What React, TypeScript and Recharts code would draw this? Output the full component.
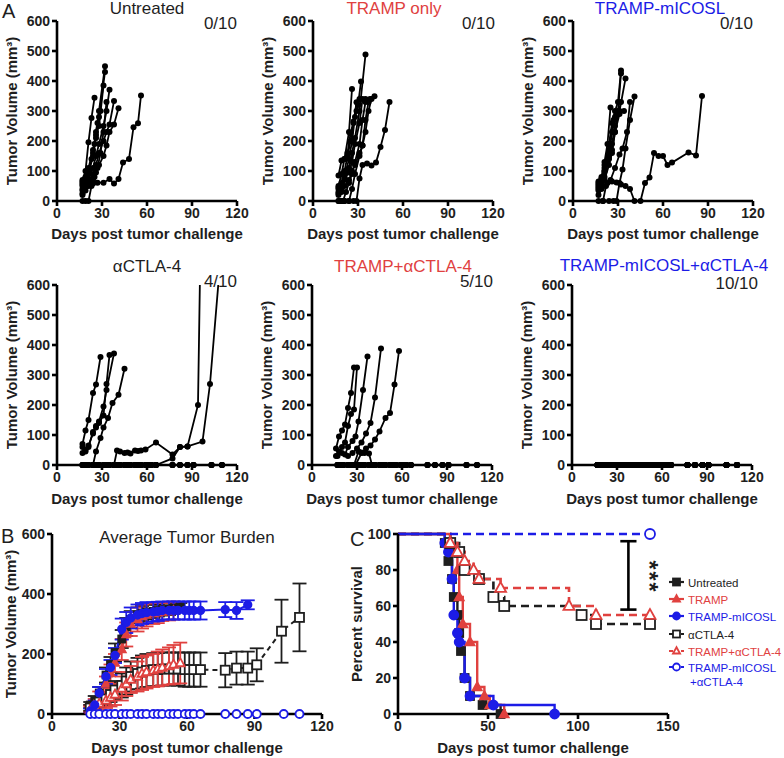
import React from 'react';
import { LineChart, Line, XAxis, YAxis, ErrorBar, ReferenceLine } from 'recharts';

const FONT = '"Liberation Sans", Arial, Helvetica, sans-serif';
const INK = '#1e1e1e';
const RED = '#e0413f';
const BLUE = '#1c1ce6';

type P = [number, number];

// ---------- tick labels ----------
const A_X_TICKS = [0, 30, 60, 90, 120];
const A_Y_TICKS = [0, 100, 200, 300, 400, 500, 600];
const B_X_TICKS = [0, 30, 60, 90, 120];
const B_Y_TICKS = [0, 200, 400, 600];
const C_X_TICKS = [0, 50, 100, 150];
const C_Y_TICKS = [0, 20, 40, 60, 80, 100];

// ---------- tumor-free measurement days ----------
const ZERO_DAYS = [17, 19, 21, 24, 26, 28, 31, 33, 35, 38, 40, 42, 45, 47, 49, 52, 54, 56, 59, 61, 63, 66, 77, 82, 87, 91, 103, 110];
const ZERO_VOLS = [0, 0, 0, 0, 0, 0, 0, 0, 0, 0, 0, 0, 0, 0, 0, 0, 0, 0, 0, 0, 0, 0, 0, 0, 0, 0, 0, 0];

// ---------- Panel A: Untreated ----------
const U1: P[] = [[17, 50], [19, 70], [21, 100], [24, 160], [26, 230], [28, 300], [32, 449]];
const U2: P[] = [[17, 35], [19, 60], [21, 90], [24, 150], [26, 210], [28, 280], [32, 430]];
const U3: P[] = [[17, 65], [19, 80], [21, 110], [24, 170], [26, 220], [28, 250], [31, 385]];
const U4: P[] = [[17, 70], [19, 100], [21, 196], [23, 277], [25, 344]];
const U5: P[] = [[17, 40], [19, 55], [21, 75], [24, 110], [26, 150], [28, 190], [31, 250], [33, 300], [35, 371]];
const U6: P[] = [[17, 25], [19, 45], [21, 60], [24, 90], [26, 120], [28, 160], [31, 200], [33, 230], [35, 255], [38, 333]];
const U7: P[] = [[17, 20], [19, 35], [21, 50], [24, 70], [26, 95], [28, 120], [31, 150], [33, 185], [35, 230], [38, 255], [41, 309]];
const U8: P[] = [[17, 60], [19, 50], [21, 55], [24, 58], [27, 61], [31, 61], [35, 73], [38, 58], [41, 73], [44, 128], [48, 140], [51, 246], [54, 259], [56, 352]];
const U9: P[] = [[17, 0], [19, 0], [21, 0], [23, 50], [25, 80], [27, 110], [29, 160], [31, 230], [33, 330]];
const U10: P[] = [[17, 55], [19, 75], [21, 100], [23, 140], [25, 190], [27, 260], [29, 300]];

// ---------- Panel A: TRAMP only ----------
const T1: P[] = [[17, 50], [19, 90], [21, 140], [24, 230], [26, 373]];
const T2: P[] = [[17, 40], [19, 60], [21, 100], [23, 150], [25, 200], [27, 260], [29, 329]];
const T3: P[] = [[17, 30], [19, 50], [21, 80], [24, 140], [26, 200], [28, 280], [30, 320], [32, 398]];
const T4: P[] = [[17, 20], [19, 40], [21, 70], [24, 110], [26, 160], [28, 210], [31, 300], [35, 488]];
const T5: P[] = [[17, 85], [19, 135], [21, 140], [23, 160], [25, 225], [27, 265], [29, 300], [31, 340]];
const T6: P[] = [[17, 45], [19, 55], [21, 75], [24, 95], [26, 130], [28, 190], [31, 260], [33, 340], [35, 340]];
const T7: P[] = [[18, 0], [20, 0], [22, 30], [24, 60], [26, 90], [28, 130], [31, 190], [33, 270], [35, 330], [38, 340], [41, 349]];
const T8: P[] = [[17, 25], [19, 30], [21, 50], [24, 70], [26, 100], [28, 120], [31, 160], [33, 185], [35, 270], [37, 330]];
const T9: P[] = [[17, 0], [19, 0], [21, 0], [24, 0], [26, 40], [28, 90], [31, 150], [33, 185], [35, 230], [37, 300], [39, 340]];
const T10: P[] = [[17, 0], [19, 0], [21, 0], [24, 0], [27, 0], [29, 0], [31, 75], [33, 120], [36, 125], [39, 118], [42, 128], [45, 180], [48, 237], [51, 330]];

// ---------- Panel A: TRAMP-mICOSL ----------
const I1: P[] = [[17, 60], [19, 80], [21, 120], [24, 190], [26, 260], [28, 300], [30, 330], [32, 435]];
const I2: P[] = [[17, 50], [19, 70], [21, 110], [24, 170], [26, 230], [28, 280], [30, 300], [32, 425]];
const I3: P[] = [[17, 55], [19, 75], [21, 130], [23, 190], [25, 312]];
const I4: P[] = [[17, 45], [19, 60], [21, 100], [24, 150], [26, 190], [28, 250], [31, 300], [35, 408]];
const I5: P[] = [[17, 65], [19, 70], [21, 100], [24, 140], [26, 170], [28, 230], [31, 290], [34, 300]];
const I6: P[] = [[20, 0], [22, 50], [25, 70], [28, 110], [31, 155], [33, 175], [36, 230], [38, 330]];
const I7: P[] = [[17, 0], [20, 0], [24, 0], [27, 0], [29, 0], [31, 60], [33, 105], [35, 175], [38, 270], [41, 348]];
const I8: P[] = [[17, 40], [20, 50], [23, 60], [26, 65], [29, 62], [32, 55], [35, 50], [38, 40], [41, 0], [45, 0], [48, 60], [51, 78], [54, 160], [57, 150], [60, 150], [63, 120], [66, 128], [77, 162], [82, 152], [86, 350]];
const I9: P[] = [[17, 35], [19, 50], [21, 80], [23, 125], [25, 190], [27, 270]];
const I10: P[] = [[17, 20], [19, 40], [21, 70], [24, 120], [26, 160], [28, 230], [30, 290], [32, 330]];

// ---------- Panel A: aCTLA-4 ----------
const C1: P[] = [[17, 70], [19, 115], [21, 150], [24, 240], [26, 268], [29, 360]];
const C2: P[] = [[17, 40], [19, 50], [21, 60], [24, 110], [26, 125], [28, 140], [31, 165], [33, 270], [35, 367]];
const C3: P[] = [[17, 60], [19, 45], [21, 65], [24, 105], [26, 130], [28, 145], [31, 195], [33, 250], [38, 372]];
const C4: P[] = [[24, 0], [26, 45], [29, 90], [31, 125], [34, 157], [37, 207], [41, 234], [45, 321]];
const C5: P[] = [[38, 0], [40, 48], [42, 45], [45, 40], [47, 42], [49, 38], [52, 48], [54, 47], [56, 48], [59, 52], [66, 75], [77, 35], [82, 60], [87, 62], [97, 78], [102, 270], [110, 750]];
const C6: P[] = [[66, 0], [77, 22], [82, 60], [87, 62], [94, 200], [98, 1500]];

// ---------- Panel A: TRAMP+aCTLA-4 ----------
const R1: P[] = [[16, 55], [18, 95], [20, 115], [22, 135], [24, 190], [26, 240], [28, 325]];
const R2: P[] = [[16, 30], [18, 45], [20, 60], [22, 75], [24, 130], [26, 170], [28, 185], [30, 325]];
const R3: P[] = [[17, 30], [20, 40], [22, 35], [24, 60], [27, 80], [29, 95], [31, 145], [34, 250], [37, 362]];
const R4: P[] = [[24, 30], [27, 40], [30, 55], [33, 75], [36, 105], [39, 140], [42, 225], [46, 388]];
const R5: P[] = [[29, 0], [33, 40], [36, 55], [39, 65], [42, 85], [45, 112], [49, 157], [52, 173], [55, 268], [58, 380]];
const R6: P[] = [[28, 0], [31, 45], [33, 42], [35, 40], [38, 38], [40, 0]];

// ---------- Panel B: averages (mean, SEM) ----------
const B_UNT_DAYS = [17, 19, 21, 24, 26, 28, 31, 33, 35, 38, 40, 42, 45, 47, 49, 52, 54, 57];
const B_UNT_MEAN = [30, 45, 70, 130, 165, 205, 250, 290, 315, 330, 335, 340, 342, 345, 348, 350, 352, 355];
const B_UNT_SEM = [10, 15, 20, 25, 25, 30, 30, 30, 28, 25, 25, 25, 22, 20, 20, 20, 18, 15];

const B_TRAMP_DAYS = [17, 19, 21, 24, 26, 28, 31, 33, 35, 38, 40, 42, 45, 47, 49, 52, 54];
const B_TRAMP_MEAN = [20, 35, 55, 100, 135, 170, 215, 265, 300, 315, 325, 330, 335, 338, 340, 342, 345];
const B_TRAMP_SEM = [10, 15, 20, 25, 30, 30, 35, 40, 40, 40, 40, 38, 35, 35, 30, 30, 30];

const B_ICOSL_DAYS = [17, 19, 21, 24, 26, 28, 31, 33, 35, 38, 40, 42, 45, 47, 49, 52, 54, 56, 59, 61, 63, 66, 77, 82, 87];
const B_ICOSL_MEAN = [10, 30, 70, 125, 155, 195, 283, 305, 320, 330, 335, 338, 340, 342, 345, 345, 345, 345, 345, 345, 345, 345, 348, 345, 364];
const B_ICOSL_SEM = [8, 15, 20, 25, 25, 25, 35, 35, 35, 35, 35, 35, 32, 32, 30, 30, 30, 30, 30, 30, 30, 30, 25, 28, 15];

const B_CTLA_DAYS = [17, 19, 21, 24, 26, 28, 31, 33, 35, 38, 40, 42, 45, 47, 49, 52, 54, 56, 59, 61, 63, 66, 77, 82, 87, 91, 102, 110];
const B_CTLA_MEAN = [20, 25, 40, 50, 65, 80, 95, 110, 125, 135, 140, 145, 148, 148, 150, 150, 150, 150, 148, 148, 148, 148, 146, 153, 153, 164, 276, 322];
const B_CTLA_SEM = [10, 12, 15, 20, 25, 30, 40, 45, 50, 52, 55, 55, 55, 55, 55, 55, 55, 55, 57, 57, 57, 57, 57, 55, 55, 55, 105, 113];

const B_TC_DAYS = [17, 19, 21, 24, 26, 28, 31, 33, 35, 38, 40, 42, 45, 47, 49, 52, 54, 57];
const B_TC_MEAN = [15, 25, 35, 45, 55, 65, 85, 100, 115, 125, 135, 140, 145, 150, 155, 160, 165, 170];
const B_TC_SEM = [10, 15, 20, 25, 30, 35, 40, 40, 45, 50, 55, 55, 55, 58, 60, 62, 65, 68];

// ---------- Panel C: Kaplan-Meier (day, % survival) ----------
const KM_UNT: P[] = [[0, 100], [26, 95], [28, 85], [30, 75], [31, 65], [33, 55], [34, 45], [35, 35], [37, 20], [40, 10], [47, 5], [57, 0]];
const KM_TRAMP: P[] = [[0, 100], [29, 95], [31, 90], [33, 80], [34, 65], [36, 50], [40, 40], [44, 15], [48, 10], [51, 5], [59, 0]];
const KM_ICOSL: P[] = [[0, 100], [26, 95], [28, 90], [30, 75], [31, 55], [33, 45], [34, 40], [37, 20], [40, 10], [53, 5], [87, 0]];
const KM_CTLA: P[] = [[0, 100], [29, 95], [34, 90], [37, 80], [45, 75], [53, 65], [59, 60], [102, 55], [110, 50], [140, 50]];
const KM_TC: P[] = [[0, 100], [29, 95], [33, 90], [37, 85], [42, 80], [45, 75], [57, 70], [95, 60], [110, 55], [140, 55]];
const KM_DUAL: P[] = [[0, 100], [140, 100]];
const SIG_BAR = { day: 128, hi: 96, lo: 58, cap: 4.5 };

// ---------- helpers ----------
const pairs = (pts: P[]) => pts.map(([d, v]) => ({ d, v }));
const zip = (days: number[], vals: number[], errs?: number[]) =>
  days.map((d, i) => ({ d, v: vals[i], e: errs ? errs[i] : 0 }));

const tickStyle = { fill: INK, fontSize: 14, fontWeight: 700, fontFamily: FONT };
const axisStroke = { stroke: '#000', strokeWidth: 2.6 };

type Shape = 'square' | 'triangle' | 'circle';

function drawShape(shape: Shape, cx: number, cy: number, size: number, color: string, filled: boolean, key: string) {
  const fill = filled ? color : '#fff';
  const sw = 1.8;
  if (shape === 'square') {
    return <rect key={key} x={cx - size / 2} y={cy - size / 2} width={size} height={size} fill={fill} stroke={color} strokeWidth={sw} />;
  }
  if (shape === 'triangle') {
    const h = size * 0.9;
    return (
      <polygon
        key={key}
        points={`${cx},${cy - h * 0.6} ${cx - size / 2},${cy + h * 0.4} ${cx + size / 2},${cy + h * 0.4}`}
        fill={fill}
        stroke={color}
        strokeWidth={sw}
      />
    );
  }
  return <circle key={key} cx={cx} cy={cy} r={size / 2} fill={fill} stroke={color} strokeWidth={sw} />;
}

function makeDot(shape: Shape, color: string, filled: boolean, size: number, skipFirst = false) {
  return (props: any) => {
    const { cx, cy, index } = props;
    const key = `dot-${index}`;
    if (cx == null || cy == null || (skipFirst && index === 0)) return <g key={key} />;
    return drawShape(shape, cx, cy, size, color, filled, key);
  };
}

// ---------- Panel A component ----------
function MousePanel({ x0, y0, mice, clip }: { x0: number; y0: number; mice: P[][]; clip?: boolean }) {
  const left = 57;
  const top = 20;
  const w = 180;
  const h = 180;
  return (
    <div style={{ position: 'absolute', left: x0 - left, top: y0 - top }}>
      <LineChart width={left + w + 12} height={top + h + 30} margin={{ top, right: 12, bottom: 0, left: 0 }}>
        <XAxis type="number" dataKey="d" domain={[0, 120]} ticks={A_X_TICKS} interval={0} height={30}
          tick={tickStyle} axisLine={axisStroke} tickLine={axisStroke} tickSize={5} tickMargin={2} />
        <YAxis type="number" domain={[0, 600]} ticks={A_Y_TICKS} interval={0} width={left}
          tick={tickStyle} axisLine={axisStroke} tickLine={axisStroke} tickSize={5} tickMargin={2}
          allowDataOverflow={!!clip} />
        {mice.map((m, i) => (
          <Line key={i} data={pairs(m)} dataKey="v" type="linear" stroke="#000" strokeWidth={1.8}
            dot={{ r: 3, fill: '#000', stroke: '#000', strokeWidth: 0, clipDot: false } as any}
            activeDot={false} isAnimationActive={false} />
        ))}
      </LineChart>
    </div>
  );
}

const SURVIVOR: P[] = ZERO_DAYS.map((d, i) => [d, ZERO_VOLS[i]] as P);

// ---------- Panel B ----------
function AverageChart() {
  const left = 52;
  const top = 20;
  const w = 270;
  const h = 180;
  const series = [
    { data: zip(B_UNT_DAYS, B_UNT_MEAN, B_UNT_SEM), color: INK, dash: undefined, shape: 'square' as Shape, filled: true, size: 7, err: true },
    { data: zip(B_TRAMP_DAYS, B_TRAMP_MEAN, B_TRAMP_SEM), color: RED, dash: undefined, shape: 'triangle' as Shape, filled: true, size: 8, err: true },
    { data: zip(B_CTLA_DAYS, B_CTLA_MEAN, B_CTLA_SEM), color: INK, dash: '5 4', shape: 'square' as Shape, filled: false, size: 9, err: true },
    { data: zip(B_TC_DAYS, B_TC_MEAN, B_TC_SEM), color: RED, dash: '5 4', shape: 'triangle' as Shape, filled: false, size: 9, err: true },
    { data: zip(B_ICOSL_DAYS, B_ICOSL_MEAN, B_ICOSL_SEM), color: BLUE, dash: undefined, shape: 'circle' as Shape, filled: true, size: 7.5, err: true },
    { data: zip(ZERO_DAYS, ZERO_VOLS), color: BLUE, dash: '5 4', shape: 'circle' as Shape, filled: false, size: 8, err: false },
  ];
  return (
    <div style={{ position: 'absolute', left: 52 - left, top: 534 - top }}>
      <LineChart width={left + w + 12} height={top + h + 30} margin={{ top, right: 12, bottom: 0, left: 0 }}>
        <XAxis type="number" dataKey="d" domain={[0, 120]} ticks={B_X_TICKS} interval={0} height={30}
          tick={tickStyle} axisLine={axisStroke} tickLine={axisStroke} tickSize={5} tickMargin={2} />
        <YAxis type="number" domain={[0, 600]} ticks={B_Y_TICKS} interval={0} width={left}
          tick={tickStyle} axisLine={axisStroke} tickLine={axisStroke} tickSize={5} tickMargin={2} />
        {series.map((s, i) => (
          <Line key={i} data={s.data} dataKey="v" type="linear" stroke={s.color} strokeWidth={2}
            strokeDasharray={s.dash} dot={makeDot(s.shape, s.color, s.filled, s.size)}
            activeDot={false} isAnimationActive={false}>
            {s.err ? <ErrorBar dataKey="e" direction="y" width={7} stroke={s.color} strokeWidth={1.8} /> : null}
          </Line>
        ))}
      </LineChart>
    </div>
  );
}

// ---------- Panel C ----------
function SurvivalChart() {
  const left = 58;
  const top = 20;
  const w = 270;
  const h = 180;
  const series = [
    { data: KM_UNT, color: INK, dash: undefined, shape: 'square' as Shape, filled: true, size: 8 },
    { data: KM_TRAMP, color: RED, dash: undefined, shape: 'triangle' as Shape, filled: true, size: 9 },
    { data: KM_ICOSL, color: BLUE, dash: undefined, shape: 'circle' as Shape, filled: true, size: 9 },
    { data: KM_CTLA, color: INK, dash: '8 5', shape: 'square' as Shape, filled: false, size: 10 },
    { data: KM_TC, color: RED, dash: '8 5', shape: 'triangle' as Shape, filled: false, size: 11 },
    { data: KM_DUAL, color: BLUE, dash: '8 5', shape: 'circle' as Shape, filled: false, size: 10 },
  ];
  return (
    <div style={{ position: 'absolute', left: 398 - left, top: 534 - top }}>
      <LineChart width={left + w + 12} height={top + h + 30} margin={{ top, right: 12, bottom: 0, left: 0 }}>
        <XAxis type="number" dataKey="d" domain={[0, 150]} ticks={C_X_TICKS} interval={0} height={30}
          tick={tickStyle} axisLine={axisStroke} tickLine={axisStroke} tickSize={5} tickMargin={2} />
        <YAxis type="number" domain={[0, 100]} ticks={C_Y_TICKS} interval={0} width={left}
          tick={tickStyle} axisLine={axisStroke} tickLine={axisStroke} tickSize={5} tickMargin={2} />
        {series.map((s, i) => (
          <Line key={i} data={pairs(s.data)} dataKey="v" type="stepAfter" stroke={s.color}
            strokeWidth={s.dash ? 2.6 : 2.4} strokeDasharray={s.dash}
            dot={makeDot(s.shape, s.color, s.filled, s.size, true)}
            activeDot={false} isAnimationActive={false} />
        ))}
        <ReferenceLine segment={[{ x: SIG_BAR.day, y: SIG_BAR.hi }, { x: SIG_BAR.day, y: SIG_BAR.lo }]} stroke="#000" strokeWidth={2.6} />
        <ReferenceLine segment={[{ x: SIG_BAR.day - SIG_BAR.cap, y: SIG_BAR.hi }, { x: SIG_BAR.day + SIG_BAR.cap, y: SIG_BAR.hi }]} stroke="#000" strokeWidth={2.6} />
        <ReferenceLine segment={[{ x: SIG_BAR.day - SIG_BAR.cap, y: SIG_BAR.lo }, { x: SIG_BAR.day + SIG_BAR.cap, y: SIG_BAR.lo }]} stroke="#000" strokeWidth={2.6} />
      </LineChart>
    </div>
  );
}

// ---------- text overlay ----------
const LEGEND = [
  { label: 'Untreated', color: INK, dash: false, shape: 'square' as Shape, filled: true },
  { label: 'TRAMP', color: RED, dash: false, shape: 'triangle' as Shape, filled: true },
  { label: 'TRAMP-mICOSL', color: BLUE, dash: false, shape: 'circle' as Shape, filled: true },
  { label: 'αCTLA-4', color: INK, dash: true, shape: 'square' as Shape, filled: false },
  { label: 'TRAMP+αCTLA-4', color: RED, dash: true, shape: 'triangle' as Shape, filled: false },
  { label: 'TRAMP-mICOSL', color: BLUE, dash: true, shape: 'circle' as Shape, filled: false },
];
const LEGEND_Y = [582, 599, 616, 634, 651, 667];

function Overlay() {
  const title = { fontSize: 17, fill: INK };
  const axisTitle = { fontSize: 15, fontWeight: 700, fill: INK };
  const yTitle = (x: number, y: number, key: string, text = 'Tumor Volume (mm³)') => (
    <text key={key} transform={`translate(${x},${y}) rotate(-90)`} textAnchor="middle" {...axisTitle}>{text}</text>
  );
  const xTitle = (x: number, y: number, key: string) => (
    <text key={key} x={x} y={y} textAnchor="middle" {...axisTitle}>Days post tumor challenge</text>
  );
  return (
    <svg width={784} height={758} style={{ position: 'absolute', left: 0, top: 0, pointerEvents: 'none' }} fontFamily={FONT}>
      <text x={2} y={18} fontSize={20} fill={INK}>A</text>
      <text x={1} y={543} fontSize={20} fill={INK}>B</text>
      <text x={350} y={546} fontSize={20} fill={INK}>C</text>

      <text x={147} y={14} textAnchor="middle" {...title}>Untreated</text>
      <text x={394} y={14} textAnchor="middle" {...title} fill={RED}>TRAMP only</text>
      <text x={660} y={14} textAnchor="middle" {...title} fill={BLUE}>TRAMP-mICOSL</text>
      <text x={237} y={29} textAnchor="end" {...title}>0/10</text>
      <text x={495} y={29} textAnchor="end" {...title}>0/10</text>
      <text x={753} y={29} textAnchor="end" {...title}>0/10</text>

      <text x={147} y={272} textAnchor="middle" {...title}>αCTLA-4</text>
      <text x={403} y={272} textAnchor="middle" {...title} fill={RED}>TRAMP+αCTLA-4</text>
      <text x={664} y={271} textAnchor="middle" {...title} fill={BLUE}>TRAMP-mICOSL+αCTLA-4</text>
      <text x={237} y={287} textAnchor="end" {...title}>4/10</text>
      <text x={493} y={287} textAnchor="end" {...title}>5/10</text>
      <text x={758} y={289} textAnchor="end" {...title}>10/10</text>

      <text x={187} y={543} textAnchor="middle" {...title}>Average Tumor Burden</text>

      {yTitle(17, 111, 'y1')}
      {yTitle(273, 111, 'y2')}
      {yTitle(533, 111, 'y3')}
      {yTitle(17, 375, 'y4')}
      {yTitle(272, 375, 'y5')}
      {yTitle(532, 375, 'y6')}
      {yTitle(16, 624, 'y7')}
      {yTitle(362, 624, 'y8', 'Percent survival')}

      {xTitle(147, 239, 'x1')}
      {xTitle(403, 239, 'x2')}
      {xTitle(663, 239, 'x3')}
      {xTitle(147, 504, 'x4')}
      {xTitle(402, 504, 'x5')}
      {xTitle(662, 504, 'x6')}
      {xTitle(187, 753, 'x7')}
      {xTitle(533, 753, 'x8')}

      <text transform="translate(641,577) rotate(90)" textAnchor="middle" fontSize={23} fontWeight={700} fill={INK} letterSpacing={2}>***</text>

      {LEGEND.map((l, i) => {
        const y = LEGEND_Y[i];
        return (
          <g key={`lg${i}`}>
            <line x1={669} x2={684} y1={y} y2={y} stroke={l.color} strokeWidth={2.2} strokeDasharray={l.dash ? '4 2' : undefined} />
            {drawShape(l.shape, 676.5, y, 7, l.color, l.filled, `ls${i}`)}
            <text x={688} y={y + 4.5} fontSize={11.5} fill={l.color}>{l.label}</text>
          </g>
        );
      })}
      <text x={690} y={685.5} fontSize={11.5} fill={BLUE}>+αCTLA-4</text>
    </svg>
  );
}

export default function App() {
  return (
    <div style={{ position: 'absolute', left: 0, top: 0, width: 784, height: 758, overflow: 'hidden', background: '#fff', fontFamily: FONT }}>
      <MousePanel x0={57} y0={21} mice={[U1, U2, U3, U4, U5, U6, U7, U8, U9, U10]} />
      <MousePanel x0={313} y0={21} mice={[T1, T2, T3, T4, T5, T6, T7, T8, T9, T10]} />
      <MousePanel x0={573} y0={21} mice={[I1, I2, I3, I4, I5, I6, I7, I8, I9, I10]} />
      <MousePanel x0={57} y0={285} mice={[SURVIVOR, SURVIVOR, SURVIVOR, SURVIVOR, C1, C2, C3, C4, C5, C6]} clip />
      <MousePanel x0={312} y0={285} mice={[SURVIVOR, SURVIVOR, SURVIVOR, SURVIVOR, R1, R2, R3, R4, R5, R6]} />
      <MousePanel x0={572} y0={285} mice={[SURVIVOR, SURVIVOR, SURVIVOR, SURVIVOR, SURVIVOR, SURVIVOR, SURVIVOR, SURVIVOR, SURVIVOR, SURVIVOR]} />
      <AverageChart />
      <SurvivalChart />
      <Overlay />
    </div>
  );
}
